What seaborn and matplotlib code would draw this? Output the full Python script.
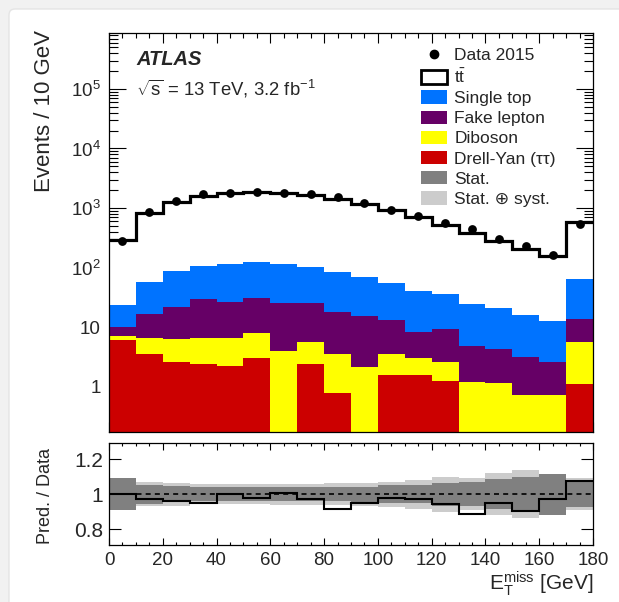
import numpy as np
import pandas as pd
import matplotlib
matplotlib.use('Agg')
import matplotlib.pyplot as plt
import seaborn as sns
from matplotlib.patches import Patch, FancyBboxPatch
from matplotlib.lines import Line2D
from matplotlib.ticker import MultipleLocator, LogLocator, NullFormatter

# binning: E_T^miss in 10 GeV bins, last bin is the overflow
bin_edges = np.arange(0, 190, 10)
bin_centers = bin_edges[:-1] + 5

data_2015 = [284, 853, 1321, 1687, 1800, 1893, 1800, 1733, 1525, 1209, 934, 731, 557, 436, 296, 229, 162, 549]
ttbar = [261, 772, 1184, 1492, 1685, 1732, 1696, 1576, 1316, 1081, 859, 669, 489, 362, 260, 191, 145, 525]
single_top = [13.6, 41.3, 64, 78.2, 88.8, 92, 88.8, 78.8, 65.6, 53.3, 42.9, 32.6, 26.7, 19.6, 16.2, 13.1, 10.1, 51]
fake_lepton = [2.8, 10.2, 15.7, 23.1, 19.7, 23.1, 21.3, 19.5, 14.5, 13.5, 9.6, 5.3, 6.7, 3.7, 3.2, 2.4, 1.85, 7.9]
diboson = [1.1, 3.0, 3.7, 4.3, 4.3, 4.8, 3.9, 3.3, 2.8, 2.1, 1.9, 1.5, 1.3, 1.2, 1.14, 0.71, 0.72, 4.6]
drell_yan = [6.1, 3.5, 2.63, 2.38, 2.23, 3.07, 0, 2.38, 0.79, 0, 1.59, 1.55, 1.26, 0, 0, 0, 0, 1.11]

# relative uncertainties on the prediction
stat_unc = [0.09, 0.055, 0.045, 0.04, 0.04, 0.04, 0.04, 0.04, 0.04, 0.043, 0.05, 0.053, 0.065, 0.07, 0.085, 0.10, 0.117, 0.072]
total_unc = [0.09, 0.07, 0.066, 0.058, 0.058, 0.058, 0.06, 0.06, 0.062, 0.065, 0.072, 0.083, 0.10, 0.093, 0.12, 0.138, 0.117, 0.09]

processes = ['ttbar', 'Single top', 'Fake lepton', 'Diboson', 'Drell-Yan']
colors = ['#ffffff', '#0073ff', '#660066', '#ffff00', '#cc0000']
labels = [r'$\mathrm{t\bar{t}}$', 'Single top', 'Fake lepton', 'Diboson', 'Drell-Yan (ττ)']

sns.set_theme(style='ticks')
plt.rcParams['font.family'] = ['Liberation Sans', 'DejaVu Sans']
plt.rcParams['mathtext.fontset'] = 'custom'
plt.rcParams['mathtext.rm'] = 'Liberation Sans'
plt.rcParams['mathtext.it'] = 'Liberation Sans:italic'
plt.rcParams['mathtext.bf'] = 'Liberation Sans:bold'

yields = [ttbar, single_top, fake_lepton, diboson, drell_yan]
df = pd.DataFrame({
    'met': np.tile(bin_centers, len(processes)),
    'events': np.concatenate([np.array(y, dtype=float) for y in yields]),
    'process': np.repeat(processes, len(bin_centers)),
})
total = np.sum([np.array(y, dtype=float) for y in yields], axis=0)
ratio = total / np.array(data_2015, dtype=float)

fig = plt.figure(figsize=(6.19, 6.02), dpi=100)
fig.patch.set_facecolor('#f1f1f1')
card = FancyBboxPatch((9, -20), 640, 613, boxstyle='round,pad=0,rounding_size=6',
                      transform=None, facecolor='white', edgecolor='#e4e4e4', lw=1, zorder=-10)
fig.patches.append(card)

ax = fig.add_axes([0.1761, 0.2829, 0.7819, 0.6628])
rax = fig.add_axes([0.1761, 0.0947, 0.7819, 0.1689])

ax.set_yscale('log')
sns.histplot(data=df, x='met', weights='events', hue='process', hue_order=processes,
             multiple='stack', bins=18, binrange=(0, 180), element='step', fill=True,
             palette=dict(zip(processes, colors)), alpha=1, linewidth=0,
             legend=False, ax=ax)
ax.stairs(total, bin_edges, baseline=None, color='black', lw=2.3, zorder=4)
sns.scatterplot(x=bin_centers, y=data_2015, color='black', s=40, linewidth=0,
                zorder=5, legend=False, ax=ax)

ax.set_xlim(0, 180)
ax.set_ylim(0.175, 8.8e5)
ax.set_xlabel('')
ax.set_ylabel('')
ax.set_yticks([1, 10, 100, 1e3, 1e4, 1e5])
ax.set_yticklabels(['1', '10', r'$10^{2}$', r'$10^{3}$', r'$10^{4}$', r'$10^{5}$'], fontsize=13.5)
ax.yaxis.set_minor_locator(LogLocator(base=10, subs=np.arange(2, 10), numticks=20))
ax.yaxis.set_minor_formatter(NullFormatter())
ax.xaxis.set_major_locator(MultipleLocator(20))
ax.xaxis.set_minor_locator(MultipleLocator(5))
ax.tick_params(axis='x', labelbottom=False)
ax.tick_params(which='both', direction='in', top=True, right=True, color='black')
ax.tick_params(axis='y', which='major', length=12, width=0.8, pad=6)
ax.tick_params(axis='y', which='minor', length=6.5, width=0.8)
ax.tick_params(axis='x', which='major', length=7, width=0.8)
ax.tick_params(axis='x', which='minor', length=3.6, width=0.8)
for s in ax.spines.values():
    s.set_linewidth(0.9)
    s.set_color('black')

ax.text(0.056, 0.934, 'ATLAS', transform=ax.transAxes, fontsize=14.5,
        fontweight='bold', fontstyle='italic', va='center')
ax.text(0.056, 0.86, r'$\sqrt{\mathrm{s}}$ = 13 TeV, 3.2 fb$^{\mathrm{-1}}$',
        transform=ax.transAxes, fontsize=13.3, va='center')

handles = [Line2D([], [], marker='o', color='black', ls='none', markersize=6)]
handles.append(Patch(facecolor='white', edgecolor='black', lw=2))
for c in colors[1:]:
    handles.append(Patch(facecolor=c, edgecolor='none'))
handles.append(Patch(facecolor='#808080', edgecolor='none'))
handles.append(Patch(facecolor='#cccccc', edgecolor='none'))
leg_labels = ['Data 2015'] + labels + ['Stat.', 'Stat. ⊕ syst.']
ax.legend(handles, leg_labels, loc='upper left', bbox_to_anchor=(0.645, 0.963),
          frameon=False, fontsize=12.5, borderpad=0, borderaxespad=0,
          labelspacing=0.26, handlelength=1.5, handleheight=0.8, handletextpad=0.4)

# ratio panel
rax.stairs(1 + np.array(total_unc), bin_edges, baseline=1 - np.array(total_unc),
           fill=True, color='#cccccc', lw=0)
rax.stairs(1 + np.array(stat_unc), bin_edges, baseline=1 - np.array(stat_unc),
           fill=True, color='#808080', lw=0)
rax.axhline(1, color='black', ls=(0, (3, 2.5)), lw=1.2)
rax.stairs(ratio, bin_edges, baseline=None, color='black', lw=1.5)

rax.set_xlim(0, 180)
rax.set_ylim(0.709, 1.291)
rax.set_yticks([0.8, 1, 1.2])
rax.set_yticklabels(['0.8', '1', '1.2'], fontsize=15)
rax.xaxis.set_major_locator(MultipleLocator(20))
rax.xaxis.set_minor_locator(MultipleLocator(5))
rax.tick_params(axis='x', labelsize=13.5, pad=5)
rax.tick_params(which='both', direction='in', top=True, right=True, color='black')
rax.tick_params(axis='y', which='major', length=8.6, width=0.8, pad=4)
rax.tick_params(axis='x', which='major', length=5, width=0.8)
rax.tick_params(axis='x', which='minor', length=2.5, width=0.8)
for s in rax.spines.values():
    s.set_linewidth(0.9)
    s.set_color('black')

fig.text(45 / 619, 1 - 30 / 602, 'Events / 10 GeV', rotation=90, ha='center', va='top', fontsize=16)
fig.text(45 / 619, 1 - 496 / 602, 'Pred. / Data', rotation=90, ha='center', va='center', fontsize=13)
fig.text(593 / 619, 1 - 590 / 602, r'$\mathrm{E}_{\mathrm{T}}^{\mathrm{miss}}$ [GeV]',
         ha='right', va='baseline', fontsize=15)

fig.savefig('out.png', dpi=100, facecolor=fig.get_facecolor())
